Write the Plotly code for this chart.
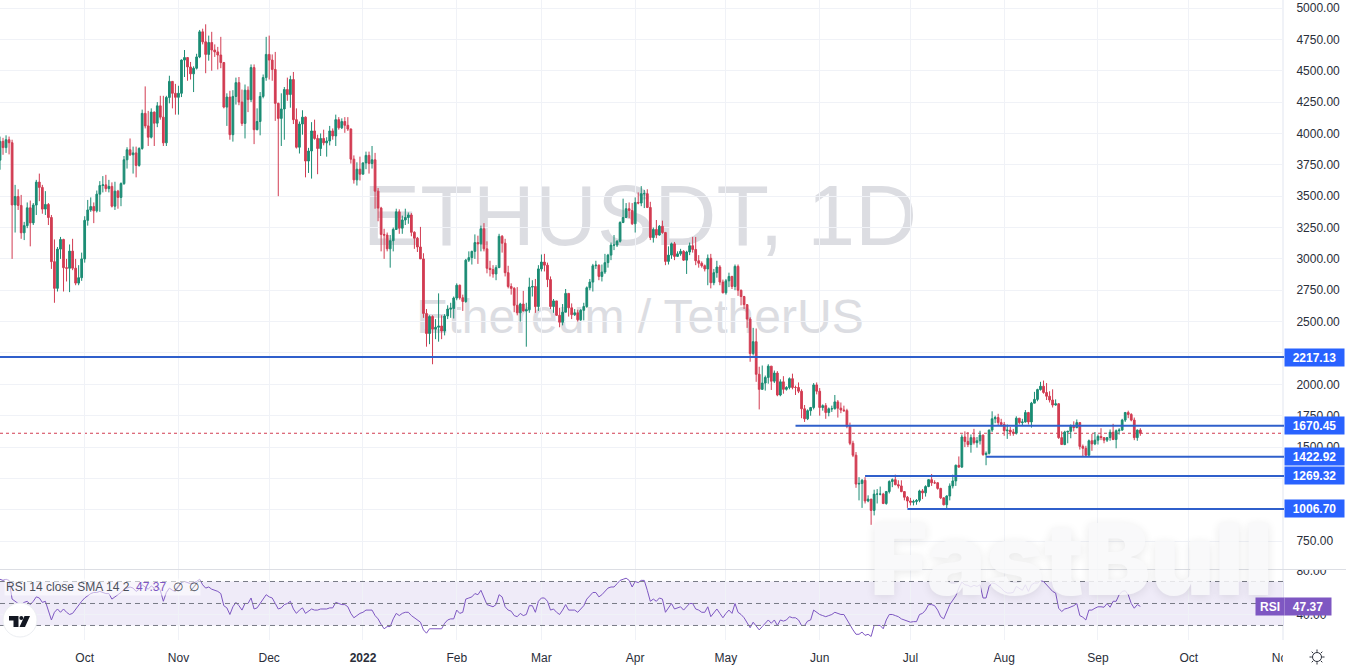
import math
import pandas as pd
import plotly.graph_objects as go

W, H, PLOT_W = 1346, 666, 1284

first_open = 3787
close = [
 3937,3887,3950,3926,3430,3497,3426,3208,3265,3407,3287,3429,3612,3570,3397,3434,3330,2978,2765,3078,3155,2930,2925,3062,2926,2807,2850,3000,
 3307,3390,3417,3383,3516,3585,3590,3560,3578,3420,3540,3490,3600,3790,3870,3830,3845,3745,3880,4160,4060,3970,4170,4082,4220,4130,3925,4287,4415,4320,4288,
 4320,4585,4605,4530,4475,4520,4610,4810,4730,4630,4725,4665,4650,4625,4565,4210,4290,3990,4295,4405,4250,4080,4345,4270,4525,4030,4095,4295,4445,4630,
 4585,4510,4240,4120,4195,4350,4310,4430,4110,3890,4075,4130,3780,3860,4020,3960,3880,3960,3925,3940,4020,3980,4110,4045,4095,4065,4035,3795,3630,3715,3675,
 3765,3825,3760,3790,3540,3405,3195,3190,3080,3145,3235,3375,3245,3310,3330,3350,3212,3165,3095,3000,2565,2405,2540,2440,2455,2465,2425,2545,2600,2605,2688,
 2790,2690,2660,2990,3010,3060,3130,3120,3240,3080,2925,2915,2880,2930,3180,3125,2890,2780,2765,2630,2570,2640,2585,2595,2775,2780,2620,2920,
 2975,2950,2835,2620,2665,2550,2495,2575,2725,2610,2555,2570,2515,2590,2620,2770,2815,2945,2950,2860,2895,2970,3030,3110,3110,3140,3290,3330,3400,3385,3280,
 3450,3445,3520,3520,3410,3170,3235,3190,3260,3210,2980,3030,3120,3020,3040,3060,2990,3055,3105,3075,2985,2965,2945,2920,3005,2810,2890,2935,2815,2730,
 2825,2860,2780,2940,2750,2700,2635,2520,2245,2340,2080,1960,2010,2055,2145,2025,2090,1915,2020,1960,1975,2045,1975,1975,1945,1805,1725,1790,1815,1995,1945,
 1815,1830,1775,1805,1805,1860,1810,1795,1790,1665,1530,1435,1205,1210,1235,1070,1085,995,1125,1125,1125,1050,1145,1225,1240,1200,1190,1145,1100,1070,
 1060,1065,1075,1150,1135,1185,1240,1215,1215,1170,1095,1040,1110,1190,1230,1355,1340,1580,1545,1520,1575,1535,1550,1595,1440,1450,1635,1725,1735,1695,1680,
 1630,1635,1620,1610,1730,1695,1700,1775,1700,1850,1880,1958,1985,1935,1905,1875,1835,1845,1575,1520,1620,1625,1665,1655,1695,1505,1490,1435,1550,1525,1555,
 1585,1575,1555,1575,1618,1560,1630,1635,1715,1775,1760,1715,1575,1635,1610,
]
high = [
 3975,3965,3985,3975,3950,3590,3555,3510,3295,3450,3465,3445,3630,3680,3590,3540,3445,3350,3155,3095,3175,3160,3000,3115,3160,3000,2950,3050,
 3340,3470,3490,3450,3545,3620,3660,3670,3630,3610,3615,3550,3610,3820,3890,3960,3895,3895,3890,4190,4375,4180,4200,4175,4250,4300,4300,4300,4460,4400,4395,
 4380,4590,4665,4595,4570,4535,4635,4825,4835,4870,4780,4810,4710,4690,4770,4570,4320,4340,4345,4445,4450,4350,4390,4375,4550,4550,4200,4330,4470,4770,
 4780,4630,4650,4245,4320,4370,4445,4460,4490,4200,4095,4185,4135,3885,4090,4110,3990,4000,4030,3970,4060,4040,4150,4130,4120,4130,4130,4040,3825,3770,3815,
 3770,3855,3855,3900,3845,3565,3415,3240,3210,3190,3250,3400,3395,3345,3400,3370,3365,3220,3175,3255,3045,2600,2550,2550,2520,2725,2550,2560,2630,2650,2700,
 2805,2795,2715,3000,3060,3065,3195,3185,3265,3285,3140,2985,2950,2950,3200,3190,3160,2945,2805,2775,2775,2650,2745,2650,2850,2830,2840,2950,
 3035,3040,2970,2860,2680,2665,2610,2640,2760,2725,2645,2600,2595,2600,2650,2780,2840,2960,2985,2955,2955,3040,3040,3130,3190,3150,3300,3480,3445,3450,3445,
 3490,3530,3580,3550,3555,3455,3250,3310,3270,3305,3215,3100,3130,3135,3060,3080,3070,3065,3130,3175,3175,3030,2980,2955,3035,3040,2920,2985,2950,2835,
 2840,2890,2865,2955,2955,2755,2705,2640,2535,2450,2445,2140,2150,2070,2160,2145,2110,2105,2040,2065,1985,2055,2085,1990,2015,1960,1835,1800,1820,2010,2015,
 1970,1840,1850,1815,1830,1915,1875,1855,1830,1805,1695,1550,1460,1260,1245,1260,1115,1085,1160,1165,1185,1135,1150,1235,1250,1280,1235,1235,1145,1110,
 1095,1080,1085,1160,1165,1195,1245,1285,1235,1220,1175,1100,1115,1210,1280,1360,1425,1600,1625,1620,1600,1645,1580,1630,1600,1465,1640,1785,1750,1765,1725,
 1700,1680,1660,1645,1745,1730,1725,1795,1780,1860,1940,1965,2020,2030,2010,1945,1960,1880,1850,1625,1630,1630,1680,1705,1720,1700,1520,1510,1560,1605,1620,
 1600,1650,1580,1580,1640,1685,1640,1650,1725,1780,1790,1770,1735,1640,1650,
]
low = [
 3711,3830,3845,3833,3000,3210,3390,3160,3150,3245,3100,3270,3350,3460,3360,3350,3270,2920,2650,2740,3000,2740,2820,2735,2910,2790,2790,2825,
 2970,3265,3375,3285,3370,3375,3530,3535,3530,3410,3390,3400,3420,3590,3720,3820,3680,3650,3735,3870,4040,3900,3960,3900,4050,4110,3900,3900,4240,4200,4150,
 4150,4290,4450,4420,4430,4330,4510,4600,4710,4480,4580,4500,4610,4510,4520,4200,4060,3950,3935,4230,4225,4060,3960,4170,4250,3915,4025,3985,4280,4420,
 4430,4420,4100,3500,3900,3950,4260,4205,4075,3880,3840,3990,3650,3685,3640,3950,3675,3820,3905,3815,3905,3950,3900,4030,4035,4005,4020,3760,3600,3585,3625,
 3675,3715,3680,3720,3400,3300,3060,3000,3060,2930,3060,3230,3200,3200,3270,3280,3180,3080,3055,3000,2530,2300,2320,2160,2360,2340,2360,2390,2520,2530,2525,
 2670,2675,2585,2650,2975,2955,3000,2960,3060,3060,2885,2860,2850,2830,2930,3050,2860,2765,2715,2575,2550,2500,2580,2300,2570,2700,2570,2585,
 2900,2900,2775,2600,2570,2545,2455,2470,2575,2540,2520,2545,2500,2505,2510,2610,2750,2740,2920,2830,2820,2880,2930,2990,3070,3095,3130,3285,3325,3325,3270,
 3210,3435,3420,3405,3405,3150,3130,3165,3185,3200,2950,2955,3000,2990,3020,3025,2985,2880,3030,3050,2950,2930,2930,2900,2790,2765,2790,2850,2790,2725,
 2715,2775,2760,2750,2705,2630,2600,2450,2180,2230,2020,1800,1955,1950,2005,1955,2010,1905,1905,1925,1950,1960,1960,1915,1930,1730,1700,1715,1750,1800,1920,
 1750,1790,1725,1745,1780,1800,1735,1770,1780,1650,1515,1420,1175,1075,1015,1050,1060,880,955,1050,1115,1045,1040,1130,1180,1195,1170,1140,1075,1015,
 1035,1035,1040,1060,1085,1105,1180,1190,1205,1160,1085,1035,1005,1075,1170,1190,1335,1335,1500,1500,1455,1520,1495,1520,1430,1355,1440,1620,1690,1675,1665,
 1590,1565,1590,1590,1600,1680,1670,1695,1680,1655,1850,1865,1950,1925,1875,1855,1815,1830,1565,1520,1515,1530,1570,1625,1650,1480,1425,1425,1425,1470,1515,
 1520,1555,1530,1540,1550,1555,1490,1600,1630,1700,1730,1705,1555,1550,1590,
]
rsi = [
 72,71,72,71,54,52,50,49,51,52,49,52,56,55,51,52,44,35,42,45,42,45,42,40,41,45,48,52,
 55,57,59,60,60,61,60,59,59,54,56,58,60,63,64,65,64,61,63,67,65,63,66,64,66,62,52,60,64,62,61,
 65,69,70,69,68,69,70,72,67,64,65,63,62,61,59,48,46,40,47,51,48,44,50,50,55,45,46,50,54,58,
 56,55,50,45,46,49,50,52,45,41,44,46,41,43,45,44,44,45,45,45,46,46,51,50,49,49,47,41,37,39,41,
 42,44,44,44,39,36,31,27,29,29,36,41,39,41,42,42,39,37,35,33,26,23,27,27,27,27,27,32,35,36,36,
 44,41,42,54,55,56,59,58,62,55,49,48,47,49,58,56,47,44,43,39,38,41,39,40,48,48,42,52,
 55,55,52,44,45,42,40,44,49,44,44,44,42,45,48,54,57,60,60,56,58,61,64,65,65,68,71,72,73,71,65,
 70,69,71,71,62,52,54,52,55,54,42,46,50,45,46,47,44,47,50,50,45,44,42,42,47,38,42,45,41,37,
 41,44,41,50,42,40,37,32,28,33,29,26,29,32,35,32,35,30,35,34,35,38,37,37,35,30,30,34,35,44,42,
 40,39,38,39,40,42,41,40,40,35,30,26,22,22,24,21,22,20,30,30,30,27,35,40,40,39,38,36,35,34,
 33,33.5,33.5,40,41,44,49,49,48,44,38,36,42.7,49,53,57,64,69.5,67,66.5,65,66.5,65.5,67,55,55,65.5,68.6,68,66,64,
 61,59.5,59.5,60,65.5,64,62,67,61,67,68.6,68.6,70.7,70,67,64,61,59.5,45.7,42.7,45,45.7,46.6,48,50,39,37.5,35,44,44,45.7,
 47,47,46.6,50,46.6,52,52,58,61,61.6,58,50,45.7,49,47.37,
]
assert len(close) == len(high) == len(low) == len(rsi) == 378, (len(close), len(high), len(low), len(rsi))

dates = pd.date_range("2021-09-03", periods=len(close), freq="D")
opens = [first_open] + close[:-1]

price_ticks = [750,1000,1250,1500,1750,2000,2250,2500,2750,3000,3250,3500,3750,4000,4250,4500,4750,5000]
price_labels = ["750.00","","","1500.00","1750.00","2000.00","","2500.00","2750.00","3000.00","3250.00","3500.00","3750.00","4000.00","4250.00","4500.00","4750.00","5000.00"]
rsi_ticks = [40, 80]
rsi_labels = ["40.00", "80.00"]
time_ticks = ["2021-10-01","2021-11-01","2021-12-01","2022-01-01","2022-02-01","2022-03-01","2022-04-01","2022-05-01","2022-06-01","2022-07-01","2022-08-01","2022-09-01","2022-10-01","2022-11-01"]
time_labels = ["Oct","Nov","Dec","<b>2022</b>","Feb","Mar","Apr","May","Jun","Jul","Aug","Sep","Oct","Nov"]

level_values = [2217.13, 1670.45, 1422.92, 1269.32, 1006.70]
level_starts = ["2021-09-03", "2022-05-24", "2022-07-26", "2022-06-16", "2022-06-30"]
last_price = 1610
rsi_last = 47.37

X_START, X_END = "2021-09-03 00:00", "2022-11-01 12:00"
RED, GREEN = "#d23c52", "#1b8c74"
BLUE_LINE, BLUE_TAG = "#2f5fcb", "#2962ff"
PURPLE = "#7e57c2"
GRID = "#f0f2f7"
TEXT = "#2a2e39"

def xp(x): return x / PLOT_W
def yp(y): return 1 - y / H

fig = go.Figure()
fig.add_trace(go.Candlestick(
    x=dates, open=opens, high=high, low=low, close=close, xaxis="x", yaxis="y",
    increasing=dict(line=dict(color=GREEN, width=1), fillcolor=GREEN),
    decreasing=dict(line=dict(color=RED, width=1), fillcolor=RED),
    whiskerwidth=0, showlegend=False, hoverinfo="skip",
))
fig.add_trace(go.Scatter(
    x=dates, y=rsi, mode="lines", xaxis="x", yaxis="y2",
    line=dict(color=PURPLE, width=1), showlegend=False, hoverinfo="skip",
))

shapes = []
WM = "#dcdde2"
shapes.append(dict(type="rect", xref="paper", yref="paper", layer="below",
    x0=xp(300), x1=xp(980), y0=yp(252), y1=yp(162), line=dict(width=0), fillcolor="rgba(0,0,0,0)",
    label=dict(text="ETHUSDT, 1D", font=dict(family="Liberation Sans", size=86, color=WM),
               textposition="middle center")))
shapes.append(dict(type="rect", xref="paper", yref="paper", layer="below",
    x0=xp(340), x1=xp(940), y0=yp(336), y1=yp(286), line=dict(width=0), fillcolor="rgba(0,0,0,0)",
    label=dict(text="Ethereum / TetherUS", font=dict(family="Liberation Sans", size=48, color=WM),
               textposition="middle center")))
shapes.append(dict(type="line", xref="x", yref="y", layer="below", x0=X_START, x1=X_END,
    y0=last_price, y1=last_price, line=dict(color=RED, width=1, dash="dot")))
for v, s in zip(level_values, level_starts):
    shapes.append(dict(type="line", xref="x", yref="y", layer="above", x0=s, x1=X_END,
        y0=v, y1=v, line=dict(color=BLUE_LINE, width=2)))
shapes.append(dict(type="rect", xref="x", yref="y2", layer="below", x0=X_START, x1=X_END,
    y0=30, y1=70, line=dict(width=0), fillcolor="rgba(126,87,194,0.12)"))
for g in (70, 50, 30):
    shapes.append(dict(type="line", xref="x", yref="y2", layer="above", x0=X_START, x1=X_END,
        y0=g, y1=g, line=dict(color="#787b86", width=1, dash="5px,4px")))
shapes.append(dict(type="rect", xref="paper", yref="paper", layer="above",
    x0=xp(1285), x1=xp(W), y0=yp(570), y1=yp(560), line=dict(width=0), fillcolor="white"))
shapes.append(dict(type="rect", xref="paper", yref="paper", layer="above",
    x0=xp(1283), x1=xp(1306), y0=yp(666), y1=yp(645), line=dict(width=0), fillcolor="white"))
shapes.append(dict(type="line", xref="paper", yref="paper", layer="above",
    x0=0, x1=xp(W), y0=yp(569.5), y1=yp(569.5), line=dict(color="#dcdee4", width=1)))
shapes.append(dict(type="line", xref="paper", yref="paper", layer="below",
    x0=xp(1283.5), x1=xp(1283.5), y0=yp(640), y1=yp(0), line=dict(color=GRID, width=1)))

def path(points):
    return "M " + " L ".join(f"{xp(a):.5f} {yp(b):.5f}" for a, b in points) + " Z"
shapes.append(dict(type="circle", xref="paper", yref="paper", layer="above",
    x0=xp(3), x1=xp(37), y0=yp(637), y1=yp(603), line=dict(color="#eceef2", width=1), fillcolor="white"))
shapes.append(dict(type="path", xref="paper", yref="paper", layer="above", fillcolor="#131722", line=dict(width=0),
    path=path([(9,616),(18.5,616),(18.5,627),(13.5,627),(13.5,620.5),(9,620.5)])))
shapes.append(dict(type="path", xref="paper", yref="paper", layer="above", fillcolor="#131722", line=dict(width=0),
    path=path([(24.5,616),(30,616),(25,627),(19.5,627)])))
shapes.append(dict(type="circle", xref="paper", yref="paper", layer="above", fillcolor="#131722", line=dict(width=0),
    x0=xp(19.3), x1=xp(23.3), y0=yp(620), y1=yp(616)))
SUN_X, SUN_Y = 1317, 657
shapes.append(dict(type="circle", xref="paper", yref="paper", layer="above", fillcolor="white",
    line=dict(color=TEXT, width=1),
    x0=xp(SUN_X-4.5), x1=xp(SUN_X+4.5), y0=yp(SUN_Y+4.5), y1=yp(SUN_Y-4.5)))
for k in range(8):
    a = k * math.pi / 4
    shapes.append(dict(type="line", xref="paper", yref="paper", layer="above", line=dict(color=TEXT, width=1),
        x0=xp(SUN_X+5.2*math.cos(a)), x1=xp(SUN_X+7.5*math.cos(a)),
        y0=yp(SUN_Y+5.2*math.sin(a)), y1=yp(SUN_Y+7.5*math.sin(a))))

ann = []
ann.append(dict(xref="paper", yref="paper", x=xp(1071), y=yp(559), xanchor="center", yanchor="middle",
    showarrow=False, text="FastBull", opacity=0.85,
    font=dict(family="Inter", size=99, weight=900, color="#f8f8fa", shadow="0px 2px 10px rgba(0,0,0,0.10)")))
for v in level_values:
    ann.append(dict(xref="paper", yref="y", x=xp(1284), y=v, xanchor="left", yanchor="middle",
        showarrow=False, text=f"<b>{v:.2f}</b>", width=59, height=17, align="center", valign="middle",
        bgcolor=BLUE_TAG, borderpad=0, font=dict(family="Liberation Sans", size=12, color="white")))
ann.append(dict(xref="paper", yref="y2", x=xp(1255), y=rsi_last, xanchor="left", yanchor="middle",
    showarrow=False, text="<b>RSI</b>", width=28, height=17, align="center", bgcolor=PURPLE, borderpad=0,
    font=dict(family="Liberation Sans", size=12, color="white")))
ann.append(dict(xref="paper", yref="y2", x=xp(1284), y=rsi_last, xanchor="left", yanchor="middle",
    showarrow=False, text=f"<b>{rsi_last:.2f}</b>", width=46, height=17, align="center", bgcolor=PURPLE, borderpad=0,
    font=dict(family="Liberation Sans", size=12, color="white")))
ann.append(dict(xref="paper", yref="paper", x=xp(4), y=yp(586.5), xanchor="left", yanchor="middle",
    showarrow=False, align="left", bgcolor="rgba(255,255,255,0.55)",
    text=f"RSI 14 close SMA 14 2&nbsp;&nbsp;<span style='color:{PURPLE}'>{rsi_last:.2f}</span>&nbsp;&nbsp;∅&nbsp;&nbsp;∅",
    font=dict(family="Liberation Sans", size=12, color="#4a4e59")))

fig.update_layout(
    width=W, height=H, autosize=False,
    margin=dict(l=0, r=W - PLOT_W, t=0, b=0, pad=0, autoexpand=False),
    paper_bgcolor="white", plot_bgcolor="white",
    font=dict(family="Liberation Sans", size=12, color=TEXT),
    boxgap=0.18, hovermode=False, showlegend=False,
    xaxis=dict(domain=[0, 1], anchor="y2", type="date", range=[X_START, X_END], automargin=False,
        tickmode="array", tickvals=time_ticks, ticktext=time_labels,
        showgrid=True, gridcolor=GRID, gridwidth=1, zeroline=False, showline=False,
        ticks="outside", ticklen=7, tickcolor="rgba(0,0,0,0)", rangeslider=dict(visible=False),
        tickfont=dict(size=12, color=TEXT)),
    yaxis=dict(domain=[yp(569), 1], anchor="x", side="right", range=[527.8, 5063.8], automargin=False,
        tickmode="array", tickvals=price_ticks, ticktext=price_labels,
        showgrid=True, gridcolor=GRID, gridwidth=1, zeroline=False, showline=False,
        ticks="outside", ticklen=9, tickcolor="rgba(0,0,0,0)", tickfont=dict(size=12, color=TEXT)),
    yaxis2=dict(domain=[yp(640), yp(570)], anchor="x", side="right", range=[16.8, 80.45], automargin=False,
        tickmode="array", tickvals=rsi_ticks, ticktext=rsi_labels,
        showgrid=True, gridcolor=GRID, gridwidth=1, zeroline=False, showline=False,
        ticks="outside", ticklen=9, tickcolor="rgba(0,0,0,0)", tickfont=dict(size=12, color=TEXT)),
    shapes=shapes, annotations=ann,
)
fig.write_html("out.html", config=dict(displayModeBar=False),
               post_script="document.body.style.margin='0';document.body.style.overflow='hidden';")
